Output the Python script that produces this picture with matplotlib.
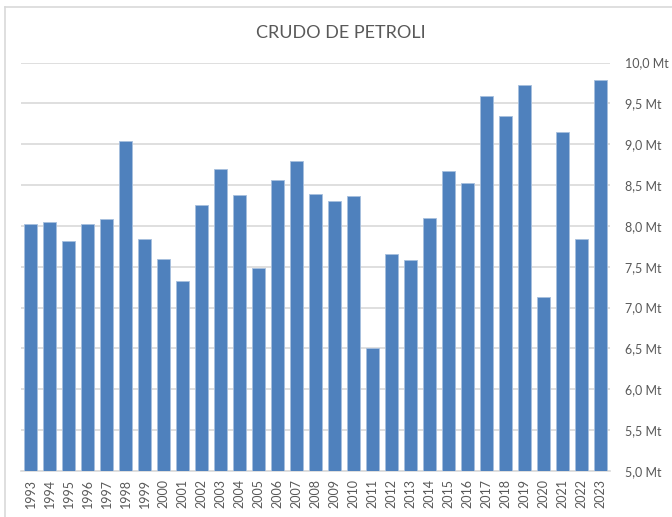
import matplotlib.pyplot as plt
from matplotlib.lines import Line2D
from matplotlib.ticker import FuncFormatter

anni = list(range(1993, 2024))
valori = [8.02, 8.05, 7.81, 8.02, 8.09, 9.04, 7.84, 7.60, 7.32, 8.26,
          8.70, 8.38, 7.49, 8.56, 8.80, 8.39, 8.31, 8.36, 6.50, 7.66,
          7.58, 8.10, 8.67, 8.52, 9.59, 9.34, 9.72, 7.13, 9.15, 7.84,
          9.79]
etichette = [str(a) for a in anni]

plt.rcParams['font.family'] = ['Lato', 'DejaVu Sans']

W, H = 672, 517
fig = plt.figure(figsize=(W / 100, H / 100), dpi=100)
ax = fig.add_axes([21 / W, 1 - 471 / H, (610 - 21) / W, (471 - 62.5) / H])

x = range(len(anni))
ax.bar(x, valori, width=0.68, color="#4F81BD", edgecolor="#A7BFDE",
       linewidth=0.6, zorder=3)

ax.set_xlim(-0.5, len(anni) - 0.5)
ax.set_ylim(5.0, 10.0)
ax.set_yticks([5.0 + 0.5 * i for i in range(11)])
ax.yaxis.set_major_formatter(FuncFormatter(lambda v, p: f"{v:.1f}".replace(".", ",") + " Mt"))
ax.yaxis.tick_right()
ax.set_xticks(list(x))
ax.set_xticklabels(etichette, rotation=90)

ax.grid(axis='y', color="#D9D9D9", linewidth=1.2, zorder=0)
for s in ["top", "left", "right"]:
    ax.spines[s].set_visible(False)
ax.spines["bottom"].set_color("#D9D9D9")
ax.spines["bottom"].set_linewidth(1.2)
ax.tick_params(axis='both', length=0, colors="#595959", labelsize=9)
ax.tick_params(axis='y', pad=11)
ax.tick_params(axis='x', pad=6)

fig.text(341 / W, 1 - 33 / H, "CRUDO DE PETROLI", ha="center", va="center",
         fontsize=13, color="#595959")

# bordo del grafico
fig.add_artist(Line2D([4.5 / W, 4.5 / W], [0, 1 - 6.5 / H], color="#D9D9D9", linewidth=1.2))
fig.add_artist(Line2D([4.5 / W, 1], [1 - 6.5 / H, 1 - 6.5 / H], color="#D9D9D9", linewidth=1.2))

fig.savefig("out.png", dpi=100)
